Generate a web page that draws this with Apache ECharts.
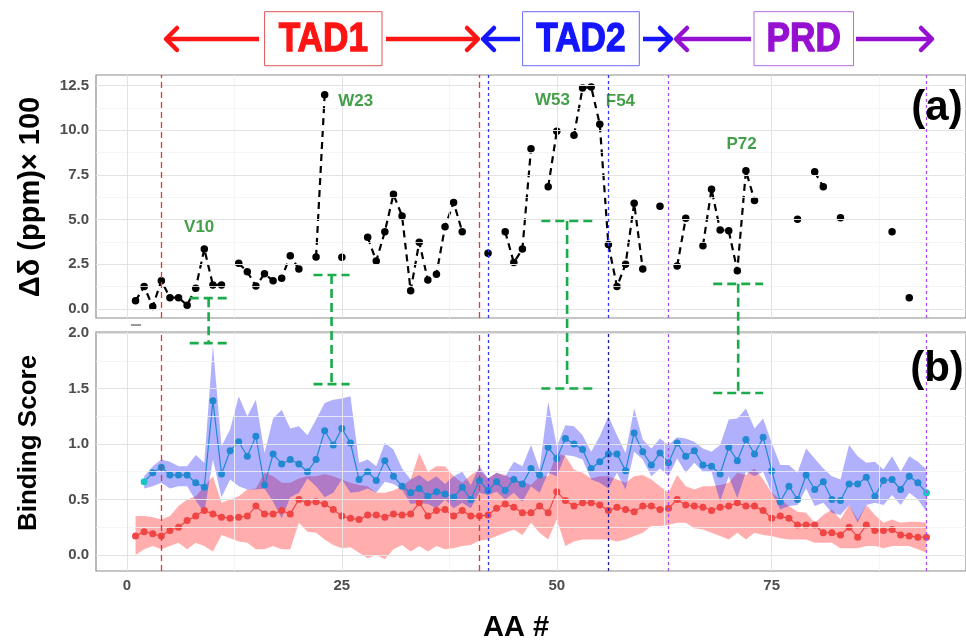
<!DOCTYPE html>
<html><head><meta charset="utf-8">
<script src="https://cdn.jsdelivr.net/npm/echarts@6/dist/echarts.min.js"></script>
<style>html,body{margin:0;padding:0;background:#fff}#c{width:966px;height:641px}</style>
</head><body><div id="c"></div>
<script>
// ---------- DATA ----------
// residue numbers 1..93
const residues = [1,2,3,4,5,6,7,8,9,10,11,12,13,14,15,16,17,18,19,20,21,22,23,24,25,26,27,28,29,30,31,32,33,34,35,36,37,38,39,40,41,42,43,44,45,46,47,48,49,50,51,52,53,54,55,56,57,58,59,60,61,62,63,64,65,66,67,68,69,70,71,72,73,74,75,76,77,78,79,80,81,82,83,84,85,86,87,88,89,90,91,92,93];
// panel (a): chemical shift perturbation x100 (null = no data)
const deltaShift = [0.45,1.25,0.13,1.58,0.63,0.63,0.21,1.16,3.35,1.34,
 1.34,null,2.55,2.08,1.28,1.96,1.58,1.72,2.98,2.23,
 null,2.91,11.99,null,2.89,null,null,4.01,2.68,4.32,
 6.41,5.20,1.02,3.73,1.62,1.94,4.60,5.96,4.32,null,
 null,3.11,null,4.32,2.59,3.35,8.96,null,6.83,9.94,
 null,9.72,12.36,12.42,10.34,3.61,1.25,2.50,5.91,2.23,
 null,5.75,null,2.40,5.07,null,3.54,6.69,4.41,4.37,
 2.14,7.73,6.07,null,null,null,null,5.01,null,7.67,
 6.83,null,5.10,null,null,null,null,null,4.32,null,
 0.63,null,null];
// panel (b): binding scores
const scoreBlue = [null,0.66,0.74,0.79,0.72,0.72,0.72,0.65,0.61,1.39,
 0.73,0.94,1.02,0.89,1.07,0.63,0.91,0.82,0.86,0.82,
 0.75,0.86,1.12,0.99,1.14,1.01,0.68,0.75,0.67,0.85,
 0.71,0.62,0.56,0.60,0.53,0.57,0.55,0.52,0.61,0.50,
 0.67,0.58,0.66,0.58,0.68,0.64,0.78,0.72,0.97,0.87,
 1.05,1.00,0.95,0.78,0.84,0.91,0.91,0.76,1.10,0.93,
 0.81,0.92,0.83,1.01,0.89,0.94,0.81,0.80,0.73,0.97,
 0.85,1.04,0.91,1.06,0.76,0.48,0.62,0.50,0.72,0.59,
 0.66,0.50,0.49,0.64,0.64,0.70,0.53,0.67,0.68,0.59,
 0.71,0.65,0.56];
const blueHigh = [null,0.71,0.80,0.86,0.84,0.80,0.80,0.90,0.83,1.89,
 0.98,1.13,1.43,1.25,1.40,0.92,1.23,1.31,1.14,1.16,
 1.08,1.22,1.37,1.40,1.41,1.43,0.83,0.86,0.80,1.01,
 0.95,0.78,0.68,0.72,0.66,0.71,0.64,0.71,0.75,0.63,
 0.80,0.69,0.74,0.71,0.84,0.80,0.99,0.77,1.38,0.98,
 1.17,1.16,1.08,0.93,1.07,1.25,1.08,0.92,1.32,1.04,
 0.96,1.05,0.99,1.06,1.05,1.02,0.96,0.93,0.99,1.22,
 1.23,1.32,1.14,1.23,1.01,0.81,0.81,0.74,0.96,0.87,
 0.78,0.71,0.68,0.99,0.89,0.83,0.84,0.77,0.89,0.75,
 0.89,0.84,0.77];
const blueLow = [null,0.60,0.62,0.65,0.60,0.62,0.62,0.49,0.38,0.86,
 0.52,0.68,0.62,0.59,0.59,0.60,0.48,0.33,0.52,0.56,
 0.69,0.62,0.52,0.56,0.68,0.56,0.57,0.60,0.56,0.66,
 0.64,0.59,0.46,0.47,0.46,0.42,0.50,0.42,0.47,0.42,
 0.56,0.54,0.57,0.50,0.56,0.48,0.62,0.56,0.74,0.71,
 0.90,0.89,0.86,0.68,0.65,0.60,0.74,0.59,0.93,0.86,
 0.71,0.78,0.71,0.87,0.74,0.83,0.75,0.75,0.48,0.71,
 0.51,0.75,0.71,0.75,0.56,0.41,0.44,0.45,0.60,0.44,
 0.47,0.38,0.36,0.45,0.29,0.45,0.47,0.45,0.54,0.45,
 0.56,0.50,0.39];
const scoreRed = [0.17,0.21,0.19,0.17,0.22,0.25,0.31,0.35,0.40,0.37,
 0.34,0.33,0.34,0.35,0.44,0.37,0.37,0.40,0.37,0.50,
 0.47,0.48,0.46,0.41,0.35,0.33,0.32,0.36,0.36,0.34,
 0.37,0.36,0.37,0.47,0.35,0.40,0.41,0.35,0.40,0.35,
 0.35,0.36,0.42,0.46,0.43,0.38,0.38,0.44,0.38,0.57,
 0.49,0.44,0.47,0.47,0.45,0.40,0.43,0.41,0.39,0.44,
 0.44,0.41,0.42,0.50,0.45,0.44,0.43,0.40,0.43,0.44,
 0.47,0.44,0.44,0.40,0.33,0.35,0.33,0.27,0.27,0.27,
 0.20,0.20,0.18,0.25,0.16,0.27,0.22,0.22,0.23,0.18,
 0.17,0.16,0.16];
const redHigh = [0.35,0.35,0.34,0.32,0.35,0.44,0.50,0.53,0.62,0.71,
 0.47,0.50,0.53,0.59,0.60,0.74,0.71,0.65,0.65,0.69,
 0.71,0.71,0.73,0.71,0.68,0.65,0.63,0.62,0.56,0.56,
 0.58,0.62,0.68,0.92,0.75,0.80,0.80,0.71,0.65,0.72,
 0.77,0.69,0.74,0.72,0.68,0.66,0.63,0.71,0.71,0.92,
 0.89,0.77,0.74,0.69,0.71,0.71,0.68,0.65,0.71,0.72,
 0.68,0.62,0.56,0.72,0.62,0.59,0.62,0.62,0.63,0.65,
 0.74,0.72,0.78,0.68,0.56,0.50,0.44,0.39,0.38,0.29,
 0.36,0.41,0.32,0.45,0.32,0.45,0.36,0.29,0.32,0.29,
 0.30,0.30,0.29];
const redLow = [0.00,0.05,0.08,0.05,0.08,0.11,0.05,0.11,0.08,0.03,
 0.18,0.15,0.12,0.11,0.05,0.05,0.08,0.05,0.05,0.29,
 0.21,0.20,0.14,0.09,0.06,0.07,0.02,-0.03,0.00,-0.04,
 0.05,0.09,0.03,0.08,0.03,0.08,0.05,0.06,0.08,0.09,
 0.13,0.14,0.17,0.20,0.23,0.18,0.29,0.20,0.14,0.32,
 0.08,0.12,0.14,0.14,0.14,0.14,0.12,0.14,0.17,0.20,
 0.26,0.26,0.27,0.29,0.29,0.24,0.23,0.20,0.17,0.14,
 0.20,0.14,0.20,0.18,0.17,0.15,0.14,0.14,0.14,0.11,
 0.11,0.11,0.06,0.06,0.06,0.08,0.08,0.06,0.08,0.08,
 0.08,0.05,0.02];
// axis ticks
const xTicks = [0,25,50,75];
const xMinor = [12.5,37.5,62.5,87.5];
const yTicksA = [0,2.5,5,7.5,10,12.5];
const yMinorA = [1.25,3.75,6.25,8.75,11.25];
const yTicksB = [0,0.5,1,1.5,2];
const yMinorB = [0.25,0.75,1.25,1.75];
// domain boundaries (residue numbers)
const domainLines = [4,41,42,56,63,93];
// highlighted residues
const labelNames = ['V10','W23','W53','F54','P72'];
const labelX = [8.4,26.6,49.5,57.4,71.5];
const labelY = [4.58,11.6,11.7,11.6,9.2];
// brackets linking panel (a) to panel (b)
const bracketX = [9.5,23.8,51.2,71.1];
const bracketTopA = [0.60,1.90,4.92,1.40];
const bracketBottomB = [1.91,1.54,1.50,1.46];
const bracketHalf = [2.2,2.1,3.0,2.9];
// header domains
const domains = ['TAD1','TAD2','PRD'];

// ---------- CHART ----------
const FONT = "'Liberation Sans', Arial, sans-serif";
const chart = echarts.init(document.getElementById('c'), null, {renderer:'canvas'});

function gridLineSeries(gi, xMaj, xMn, yMaj, yMn){
  const d = [];
  const mn = {type:'solid', color:'#f2f2f2', width:0.8};
  const mj = {type:'solid', color:'#e3e3e3', width:1};
  xMn.forEach(v=>d.push({xAxis:v, lineStyle:mn}));
  yMn.forEach(v=>d.push({yAxis:v, lineStyle:mn}));
  xMaj.forEach(v=>d.push({xAxis:v, lineStyle:mj}));
  yMaj.forEach(v=>d.push({yAxis:v, lineStyle:mj}));
  return {type:'line', xAxisIndex:gi, yAxisIndex:gi, data:[], z:0, silent:true,
    markLine:{silent:true, symbol:['none','none'], label:{show:false}, animation:false, data:d}};
}
const domainStyleA = ['#e33','#e33','#33f','#33f','#a24ef0','#a24ef0'];
const domainStyleB = ['#e33','#e33','#33f','#1c1c9c','#a24ef0','#a24ef0'];
const domainDash = [[6,4],[6,4],[3,3],[3,3],[3,3],[3,3]];
function domainSeries(gi, colors){
  return {type:'line', xAxisIndex:gi, yAxisIndex:gi, data:[], z:6, silent:true,
    markLine:{silent:true, symbol:['none','none'], label:{show:false}, animation:false,
      data: domainLines.map((v,i)=>({xAxis:v, lineStyle:{type:domainDash[i], color:colors[i], width:1.3}}))}};
}
function bandSeries(lo, hi, color, z){
  return {type:'custom', xAxisIndex:1, yAxisIndex:1, z:z, silent:true, clip:true,
    data:[[0,0]],
    renderItem:function(params, api){
      const top=[], bot=[];
      for(let i=0;i<residues.length;i++){
        if(lo[i]==null||hi[i]==null) continue;
        top.push(api.coord([residues[i], hi[i]]));
        bot.push(api.coord([residues[i], lo[i]]));
      }
      return {type:'polygon', shape:{points: top.concat(bot.reverse())}, style:{fill:color}};
    }};
}
const toPairs = arr => residues.map((r,i)=> arr[i]==null ? [r,'-'] : [r, arr[i]]);

const axisLabelStyle = {fontSize:15, fontWeight:'bold', color:'#4d4d4d', fontFamily:FONT};
const tickStyle = {show:true, length:4, lineStyle:{color:'#333', width:1}};

const option = {
  animation:false,
  backgroundColor:'#fff',
  grid:[
    {left:96, top:75, width:874, height:243, show:true, borderColor:'#8c8c8c', borderWidth:1.2, backgroundColor:'#fff'},
    {left:96, top:332, width:874, height:239, show:true, borderColor:'#8c8c8c', borderWidth:1.2, backgroundColor:'#fff'}
  ],
  xAxis:[
    {gridIndex:0, type:'value', min:-3.6, max:97.6, axisLine:{show:false},
     axisTick:Object.assign({customValues:xTicks}, tickStyle), axisLabel:{show:false}, splitLine:{show:false}},
    {gridIndex:1, type:'value', min:-3.6, max:97.6, axisLine:{show:false},
     axisTick:Object.assign({customValues:xTicks}, tickStyle),
     axisLabel:Object.assign({customValues:xTicks, margin:7}, axisLabelStyle), splitLine:{show:false}}
  ],
  yAxis:[
    {gridIndex:0, type:'value', min:-0.51, max:13.09, axisLine:{show:false},
     axisTick:Object.assign({customValues:yTicksA}, tickStyle),
     axisLabel:Object.assign({customValues:yTicksA, margin:7, formatter:v=>Number(v).toFixed(1)}, axisLabelStyle),
     splitLine:{show:false}},
    {gridIndex:1, type:'value', min:-0.145, max:2.01, axisLine:{show:false},
     axisTick:Object.assign({customValues:yTicksB}, tickStyle),
     axisLabel:Object.assign({customValues:yTicksB, margin:7, formatter:v=>Number(v).toFixed(1)}, axisLabelStyle),
     splitLine:{show:false}}
  ],
  series:[
    gridLineSeries(0, xTicks, xMinor, yTicksA, yMinorA),
    gridLineSeries(1, xTicks, xMinor, yTicksB, yMinorB),
    domainSeries(0, domainStyleA),
    {type:'line', name:'shift', xAxisIndex:0, yAxisIndex:0, z:4, silent:true,
     data: toPairs(deltaShift), connectNulls:false, showAllSymbol:true,
     symbol:'circle', symbolSize:7.5, itemStyle:{color:'#000'},
     lineStyle:{color:'#000', width:2.2, type:[7,5]}},
    bandSeries(redLow, redHigh, 'rgba(255,20,20,0.35)', 1),
    bandSeries(blueLow, blueHigh, 'rgba(30,30,245,0.35)', 2),
    {type:'line', name:'red', xAxisIndex:1, yAxisIndex:1, z:3, silent:true,
     data: toPairs(scoreRed), symbol:'circle', symbolSize:7, showAllSymbol:true,
     itemStyle:{color:'#f04545'}, lineStyle:{color:'#f04545', width:1.2}},
    {type:'line', name:'blue', xAxisIndex:1, yAxisIndex:1, z:4, silent:true,
     data: residues.map((r,i)=>{
        if(scoreBlue[i]==null) return [r,'-'];
        const edge = (i===1 || i===residues.length-1);
        return edge ? {value:[r,scoreBlue[i]], itemStyle:{color:'#19c6c6'}} : [r, scoreBlue[i]];
     }),
     symbol:'circle', symbolSize:7, showAllSymbol:true,
     itemStyle:{color:'#2188d2'}, lineStyle:{color:'#2188d2', width:1.2}},
    domainSeries(1, domainStyleB),
    {type:'scatter', xAxisIndex:0, yAxisIndex:0, z:8, silent:true, symbolSize:0,
     itemStyle:{color:'transparent'},
     data: labelNames.map((n,i)=>({name:n, value:[labelX[i], labelY[i]]})),
     label:{show:true, position:'inside', formatter:'{b}', color:'#17861c', fontSize:17, fontWeight:'bold', fontFamily:FONT}}
  ]
};
chart.setOption(option);

// ---------- overlay graphics ----------
const g = [];
function txt(x,y,text,size,color,opts){
  g.push(Object.assign({type:'text', x:x, y:y, z:100,
    style:{text:text, fill:color, font:'bold '+size+'px '+FONT, textAlign:'center', textVerticalAlign:'middle'}}, opts||{}));
}
// header
const hdr = [
  {name:domains[0], color:'#ff1414', stroke:'#e25555', box:[264.6,11.7,117.4,54], left:[259,166], right:[386,478]},
  {name:domains[1], color:'#1414ff', stroke:'#6a6aff', box:[522.6,11.7,116.7,54], left:[520,483], right:[643,671]},
  {name:domains[2], color:'#9610d2', stroke:'#b46ce2', box:[754,11.7,99.5,54], left:[751,676], right:[856,932]}
];
const AY = 39;
function arrow(x1,x2,color){
  const s = x1 > x2 ? 1 : -1;
  g.push({type:'line', z:100, shape:{x1:x1,y1:AY,x2:x2+s*1,y2:AY}, style:{stroke:color, lineWidth:4.5}});
  g.push({type:'polyline', z:100, shape:{points:[[x2+s*11,AY-11],[x2,AY],[x2+s*11,AY+11]]},
    style:{stroke:color, lineWidth:4.5, lineCap:'round', lineJoin:'round', fill:null}});
}
hdr.forEach(h=>{
  g.push({type:'rect', z:100, shape:{x:h.box[0], y:h.box[1], width:h.box[2], height:h.box[3]},
    style:{fill:null, stroke:h.stroke, lineWidth:1}});
  arrow(h.left[0], h.left[1], h.color);
  arrow(h.right[0], h.right[1], h.color);
  g.push({type:'text', z:101, x:h.box[0]+h.box[2]/2, y:h.box[1]+h.box[3]/2+1, scaleX:0.88,
    style:{text:h.name, fill:h.color, stroke:h.color, lineWidth:1.3, font:'bold 40px '+FONT, textAlign:'center', textVerticalAlign:'middle'}});
});
// panel tags
txt(937,108,'(a)',42,'#000');
txt(937,369,'(b)',42,'#000');
// axis titles
txt(31,197,'Δδ (ppm)× 100',29,'#000',{rotation:Math.PI/2});
txt(29,443,'Binding Score',26,'#000',{rotation:Math.PI/2});
txt(516,628,'AA #',29,'#000');
// small tick artifact
g.push({type:'line', z:100, shape:{x1:131,y1:325,x2:141,y2:325}, style:{stroke:'#777', lineWidth:1.5}});
// brackets
const GREEN = '#1aab4a';
bracketX.forEach((bx,i)=>{
  const t1 = chart.convertToPixel({xAxisIndex:0, yAxisIndex:0}, [bx-bracketHalf[i], bracketTopA[i]]);
  const t2 = chart.convertToPixel({xAxisIndex:0, yAxisIndex:0}, [bx+bracketHalf[i], bracketTopA[i]]);
  const tc = chart.convertToPixel({xAxisIndex:0, yAxisIndex:0}, [bx, bracketTopA[i]]);
  const b1 = chart.convertToPixel({xAxisIndex:1, yAxisIndex:1}, [bx-bracketHalf[i], bracketBottomB[i]]);
  const b2 = chart.convertToPixel({xAxisIndex:1, yAxisIndex:1}, [bx+bracketHalf[i], bracketBottomB[i]]);
  const bc = chart.convertToPixel({xAxisIndex:1, yAxisIndex:1}, [bx, bracketBottomB[i]]);
  const st = {stroke:GREEN, lineWidth:2.6, lineDash:[9,5]};
  g.push({type:'line', z:90, shape:{x1:t1[0],y1:t1[1],x2:t2[0],y2:t2[1]}, style:st});
  g.push({type:'line', z:90, shape:{x1:b1[0],y1:b1[1],x2:b2[0],y2:b2[1]}, style:st});
  g.push({type:'line', z:90, shape:{x1:tc[0],y1:tc[1],x2:bc[0],y2:bc[1]}, style:st});
});
chart.setOption({graphic:g});
</script></body></html>
